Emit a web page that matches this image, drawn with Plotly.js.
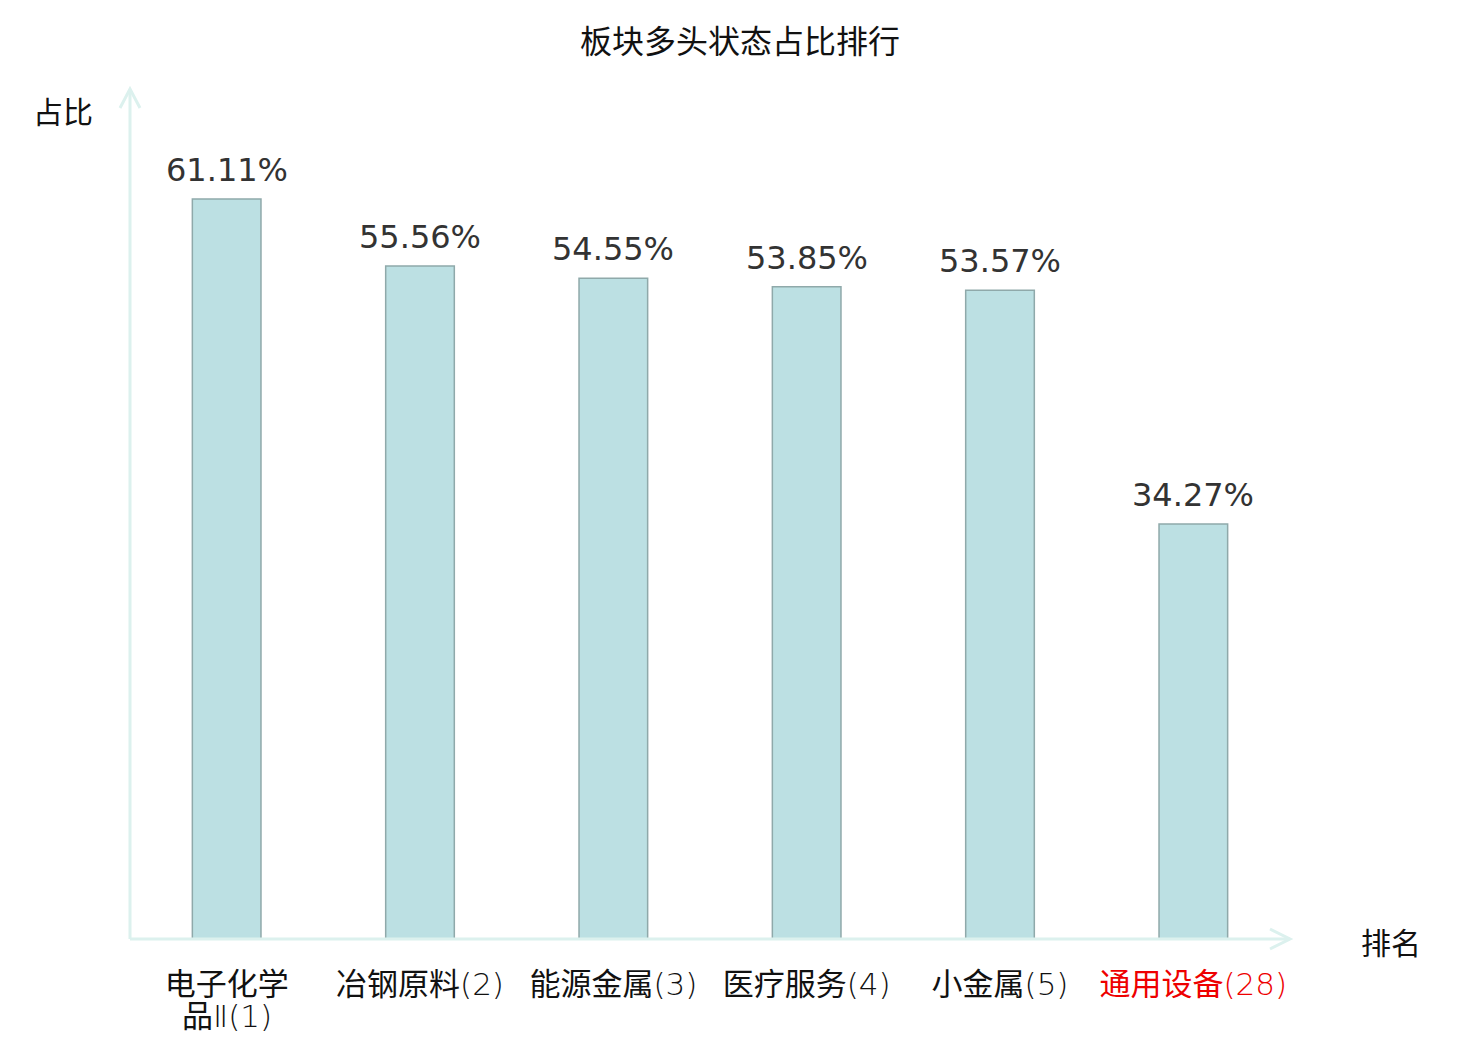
<!DOCTYPE html>
<html>
<head>
<meta charset="utf-8">
<script src="https://cdn.plot.ly/plotly-3.0.1.min.js"></script>
<style>
  body { margin: 0; background: #fff; }
  #chart { width: 1480px; height: 1040px; }
</style>
</head>
<body>
<div id="chart"></div>
<script>
// sector names, rank, share of stocks in bullish state (%)
var sectors = ['电子化学<br>品Ⅱ', '冶钢原料', '能源金属', '医疗服务', '小金属', '通用设备'];
var ranks = [1, 2, 3, 4, 5, 28];
var shares = [61.11, 55.56, 54.55, 53.85, 53.57, 34.27];
var highlightRank = 28;

var FONT = '"Noto Sans CJK SC", "Noto Sans", sans-serif';
var TICKFONT = '"DejaVu Sans Light", "Noto Sans CJK SC", sans-serif';
var NUMFONT = '"DejaVu Sans", sans-serif';

// plot area in pixels
var L = 130, R = 1290, T = 90, B = 939;
function px(x) { return (x - L) / (R - L); }
function py(y) { return (B - y) / (B - T); }

var idx = sectors.map(function (s, i) { return i; });
var annotations = [];

// long names wrap onto a second line, placed a bit tighter than <br> does
var ticktext = sectors.map(function (s, i) {
    var parts = (s + '(' + ranks[i] + ')').split('<br>');
    var color = ranks[i] === highlightRank ? '#ee0000' : '#111111';
    for (var k = 1; k < parts.length; k++) {
        annotations.push({
            x: i, y: 0, xref: 'x', yref: 'paper',
            text: parts[k], showarrow: false,
            yanchor: 'middle', yshift: -(1016 - B) - 32 * (k - 1),
            font: { family: TICKFONT, size: 31, color: color }
        });
    }
    return '<span style="color:' + color + '">' + parts[0] + '</span>';
});

var trace = {
    x: idx,
    y: shares,
    type: 'bar',
    width: 0.355,
    marker: {
        color: '#bce0e3',
        line: { color: '#8fa9aa', width: 1.5 }
    },
    hoverinfo: 'skip'
};

shares.forEach(function (v, i) {
    annotations.push({
        x: i, y: v, xref: 'x', yref: 'y',
        text: v.toFixed(2) + '%',
        showarrow: false,
        yanchor: 'bottom',
        yshift: 8,
        font: { family: NUMFONT, size: 32, color: '#333333' }
    });
});
annotations.push({
    x: px(63), y: py(110), xref: 'paper', yref: 'paper',
    xanchor: 'center', yanchor: 'middle',
    text: '占比', showarrow: false,
    font: { family: FONT, size: 30, color: '#111111' }
});
annotations.push({
    x: px(1391), y: py(941), xref: 'paper', yref: 'paper',
    xanchor: 'center', yanchor: 'middle',
    text: '排名', showarrow: false,
    font: { family: FONT, size: 30, color: '#111111' }
});

var axisColor = '#dcf1ee';
var shapes = [
    // y axis with arrow
    { type: 'line', xref: 'paper', yref: 'paper', x0: 0, y0: 0, x1: 0, y1: py(89),
      line: { color: axisColor, width: 3 } },
    { type: 'path', xref: 'paper', yref: 'paper',
      path: 'M ' + px(120) + ' ' + py(108) + ' L ' + px(130) + ' ' + py(89) + ' L ' + px(140) + ' ' + py(108),
      line: { color: axisColor, width: 3 } },
    // x axis with arrow
    { type: 'line', xref: 'paper', yref: 'paper', x0: 0, y0: 0, x1: px(1290), y1: 0,
      line: { color: axisColor, width: 3 } },
    { type: 'path', xref: 'paper', yref: 'paper',
      path: 'M ' + px(1270) + ' ' + py(929) + ' L ' + px(1290) + ' ' + py(939) + ' L ' + px(1270) + ' ' + py(949),
      line: { color: axisColor, width: 3 } }
];

var layout = {
    width: 1480,
    height: 1040,
    margin: { l: L, r: 1480 - R, t: T, b: 1040 - B, pad: 0 },
    paper_bgcolor: '#ffffff',
    plot_bgcolor: '#ffffff',
    showlegend: false,
    title: {
        text: '板块多头状态占比排行',
        x: 0.5, xref: 'container', xanchor: 'center',
        y: 1 - 42 / 1040, yref: 'container', yanchor: 'middle',
        font: { family: FONT, size: 32, color: '#111111' }
    },
    xaxis: {
        range: [-0.5, 5.5],
        tickvals: idx,
        ticktext: ticktext,
        ticks: '',
        ticklabelstandoff: 24,
        showgrid: false,
        zeroline: false,
        showline: false,
        fixedrange: true,
        tickfont: { family: TICKFONT, size: 31, color: '#111111' }
    },
    yaxis: {
        range: [0, 70.1],
        showticklabels: false,
        ticks: '',
        showgrid: false,
        zeroline: false,
        showline: false,
        fixedrange: true
    },
    annotations: annotations,
    shapes: shapes
};

Plotly.newPlot('chart', [trace], layout, { displayModeBar: false, staticPlot: true });
</script>
</body>
</html>
